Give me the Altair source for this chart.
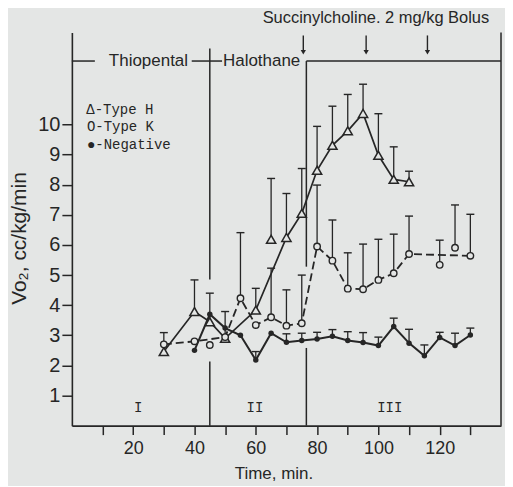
import altair as alt
import pandas as pd

BG = "#e4e6e5"
INK = "#262626"
SANS = "Liberation Sans"
MONO = "Liberation Mono"

# ---- data (time in min, VO2 in cc/kg/min) ----
h_t    = [30, 40, 45, 50, 60, 65, 70, 75, 80, 85, 90, 95, 100, 105, 110]
h_mean = [2.46, 3.79, 3.45, 2.90, 3.84, 6.19, 6.25, 7.05, 8.48, 9.31, 9.79, 10.37, 8.98, 8.18, 8.10]
h_top  = [3.09, 4.84, 4.40, 3.79, 4.56, 8.21, 7.71, 8.54, 9.94, 10.61, 11.00, 11.34, 10.36, 9.26, 8.45]
h_conn = [1, 1, 1, 1, 1, 0, 1, 1, 1, 1, 1, 1, 1, 1, 1]

k_t    = [30, 40, 45, 50, 55, 60, 65, 70, 75, 80, 85, 90, 95, 100, 105, 110, 120, 125, 130]
k_mean = [2.70, 2.80, 2.68, 2.94, 4.23, 3.34, 3.60, 3.32, 3.40, 5.95, 5.48, 4.55, 4.53, 4.84, 5.06, 5.70, 5.34, 5.91, 5.64]
k_top  = [None, None, None, None, 6.41, None, 5.23, 4.51, 5.00, 7.99, 6.83, 5.74, 6.03, 6.19, 6.36, 6.96, 6.16, 7.33, 7.02]
k_conn = [1, 1, 0, 1, 1, 1, 1, 1, 1, 1, 1, 1, 1, 1, 1, 1, 0, 0, 1]

n_t    = [40, 45, 50, 55, 60, 65, 70, 75, 80, 85, 90, 95, 100, 105, 110, 115, 120, 125, 130]
n_mean = [2.50, 3.70, 3.24, 3.00, 2.18, 3.07, 2.77, 2.83, 2.88, 2.97, 2.83, 2.76, 2.66, 3.29, 2.74, 2.32, 2.93, 2.66, 3.01]
n_top  = [None, None, None, None, 2.46, None, 3.05, 3.07, 3.10, 3.19, 3.12, 3.09, 2.94, 3.57, 3.20, 2.68, 3.10, 3.07, 3.24]

bolus_t = [75.5, 96, 116]
period_labels = ["I", "II", "III"]
period_t = [21.6, 59.7, 103.7]
legend_labels = ["\u0394-Type H", "O-Type K", "\u25cf-Negative"]
legend_v = [10.49, 9.91, 9.31]

# ---- tables ----
H = pd.DataFrame({"t": h_t, "v": h_mean, "top": h_top, "conn": h_conn})
K = pd.DataFrame({"t": k_t, "v": k_mean, "top": k_top, "conn": k_conn})
N = pd.DataFrame({"t": n_t, "v": n_mean, "top": n_top})
err = pd.concat([H[["t", "v", "top"]], K[["t", "v", "top"]], N[["t", "v", "top"]]]).dropna()

vsegs = pd.DataFrame({"t": [45, 45, 76.5, 76.5, 140],
                      "v": [0, 4.85, 0, 5.28, 0],
                      "top": [2.13, 12.53, 2.58, 12.11, 13.06]})
hsegs = pd.DataFrame({"t": [0, 39.1, 76.5], "t2": [7.5, 49.0, 140], "v": [12.11, 12.11, 12.11]})
arrows = pd.DataFrame({"t": bolus_t, "v": [12.96] * 3, "top": [12.42] * 3})
heads = pd.DataFrame({"t": bolus_t, "v": [12.40] * 3})
periods = pd.DataFrame({"t": period_t, "v": [0.58] * 3, "lab": period_labels})
legend = pd.DataFrame({"t": [4.7, 4.9, 4.9], "v": legend_v, "lab": legend_labels})

xs = alt.Scale(domain=[0, 140], nice=False, zero=False)
ys = alt.Scale(domain=[0, 13.06], nice=False, zero=False)
xaxis = alt.Axis(values=list(range(10, 140, 10)),
                 labelExpr="datum.value % 20 == 0 ? datum.label : ''",
                 title="Time, min.", titleFont=SANS, titleFontSize=17, titleFontWeight="normal",
                 titleColor=INK, titleX=202, titleY=53, titleBaseline="alphabetic",
                 labelFont=SANS, labelFontSize=18, labelColor=INK, labelPadding=5,
                 tickSize=9, tickColor=INK, tickWidth=1.5, domainColor=INK, domainWidth=1.6,
                 grid=False, labelFlush=False)
yaxis = alt.Axis(values=list(range(1, 11)), title="Vo\u2082, cc/kg/min",
                 titleFont=SANS, titleFontSize=21, titleFontWeight="normal", titleColor=INK,
                 titleX=-52, titleY=206, titleAngle=270, titleAlign="center", titleBaseline="middle",
                 labelFont=SANS, labelFontSize=20, labelColor=INK, labelPadding=2,
                 tickSize=10, tickColor=INK, tickWidth=1.5, domainColor=INK, domainWidth=1.6,
                 grid=False)

def X(field="t"):
    return alt.X(f"{field}:Q", scale=xs, axis=xaxis)

def Y(field="v"):
    return alt.Y(f"{field}:Q", scale=ys, axis=yaxis)

frame = alt.Chart(vsegs).mark_rule(color=INK, strokeWidth=1.5).encode(x=X(), y=Y(), y2="top:Q")
hlines = alt.Chart(hsegs).mark_rule(color=INK, strokeWidth=1.5).encode(x=X(), x2="t2:Q", y=Y())
arrow_shaft = alt.Chart(arrows).mark_rule(color=INK, strokeWidth=1.4).encode(x=X(), y=Y(), y2="top:Q")
arrow_head = alt.Chart(heads).mark_point(shape="triangle-down", filled=True, color=INK, size=28, opacity=1).encode(x=X(), y=Y())

errbars = alt.Chart(err).mark_rule(color=INK, strokeWidth=1.3).encode(x=X(), y=Y(), y2="top:Q")
caps = alt.Chart(err).mark_tick(orient="horizontal", color=INK, size=8, thickness=1.4, opacity=1).encode(x=X(), y=Y("top"))

h_line = alt.Chart(H).transform_filter("datum.conn == 1").mark_line(color=INK, strokeWidth=1.7).encode(x=X(), y=Y())
k_line = alt.Chart(K).transform_filter("datum.conn == 1").mark_line(color=INK, strokeWidth=1.8, strokeDash=[8, 4]).encode(x=X(), y=Y())
n_line = alt.Chart(N).mark_line(color=INK, strokeWidth=2.0).encode(x=X(), y=Y())

h_pts = alt.Chart(H).mark_point(shape="triangle-up", filled=True, fill=BG, stroke=INK, strokeWidth=1.5, size=85, opacity=1).encode(x=X(), y=Y())
k_pts = alt.Chart(K).mark_point(shape="circle", filled=True, fill=BG, stroke=INK, strokeWidth=1.4, size=42, opacity=1).encode(x=X(), y=Y())
n_pts = alt.Chart(N).mark_point(shape="circle", filled=True, color=INK, size=30, opacity=1).encode(x=X(), y=Y())

period_txt = alt.Chart(periods).mark_text(font=MONO, fontSize=14, color=INK, align="center", baseline="middle").encode(x=X(), y=Y(), text="lab:N")
legend_txt = alt.Chart(legend).mark_text(font=MONO, fontSize=14, color=INK, align="left", baseline="middle").encode(x=X(), y=Y(), text="lab:N")

thio = alt.Chart(pd.DataFrame({"t": [37.9], "v": [12.11], "lab": ["Thiopental"]})).mark_text(
    font=SANS, fontSize=17, color=INK, align="right", baseline="middle").encode(x=X(), y=Y(), text="lab:N")
halo = alt.Chart(pd.DataFrame({"t": [49.3], "v": [12.11], "lab": ["Halothane"]})).mark_text(
    font=SANS, fontSize=17, color=INK, align="left", baseline="middle").encode(x=X(), y=Y(), text="lab:N")
succ = alt.Chart(pd.DataFrame({"t": [99.2], "v": [13.36], "lab": ["Succinylcholine. 2 mg/kg Bolus"]})).mark_text(
    font=SANS, fontSize=16.5, color=INK, align="center", baseline="alphabetic").encode(x=X(), y=Y(), text="lab:N")

chart = alt.layer(
    frame, hlines, arrow_shaft, arrow_head,
    errbars, caps, h_line, k_line, n_line, h_pts, k_pts, n_pts,
    period_txt, legend_txt, thio, halo, succ
).properties(
    width=430, height=394,
    autosize=alt.AutoSizeParams(type="none"),
    padding={"left": 64, "top": 24, "right": 4, "bottom": 60},
    background=BG,
).configure_view(stroke=None)

chart.save("out.html", embed_options={"renderer": "svg", "actions": False})
